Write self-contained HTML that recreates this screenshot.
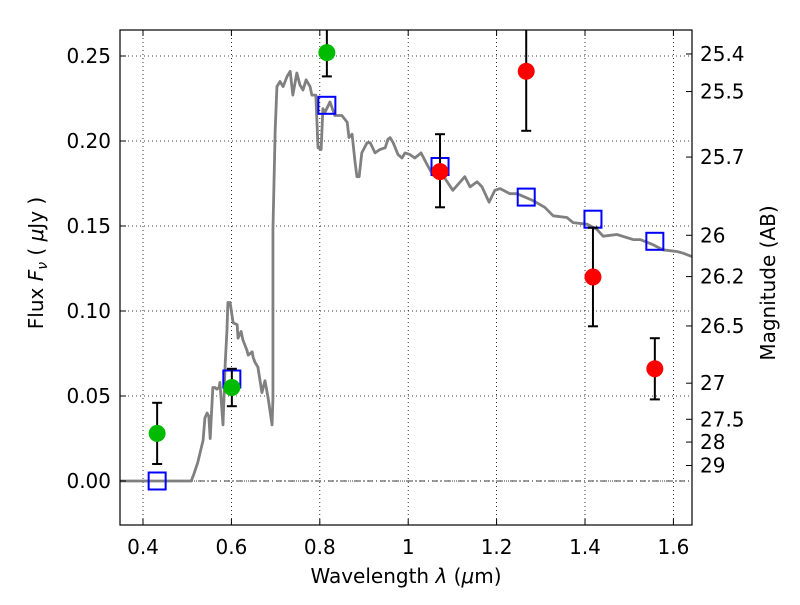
<!DOCTYPE html>
<html><head><meta charset="utf-8"><style>
body{margin:0;background:#fff;}
svg text{font-family:"DejaVu Sans","Liberation Sans",sans-serif;font-size:20px;fill:#000;}
</style></head><body>
<svg id="c" width="800" height="600" xmlns="http://www.w3.org/2000/svg"></svg>
<script>
const specLam=[0.348,0.509,0.515,0.524,0.536,0.540,0.545,0.549,0.552,0.558,0.563,0.567,0.572,0.574,0.581,0.586,0.590,0.592,0.597,0.604,0.613,0.615,0.622,0.626,0.635,0.638,0.647,0.649,0.653,0.660,0.669,0.676,0.683,0.692,0.694,0.694,0.699,0.703,0.710,0.717,0.726,0.733,0.739,0.748,0.755,0.762,0.769,0.778,0.782,0.791,0.796,0.803,0.807,0.812,0.823,0.834,0.850,0.862,0.866,0.873,0.880,0.884,0.889,0.895,0.907,0.914,0.925,0.936,0.948,0.954,0.959,0.966,0.977,0.986,0.993,1.004,1.015,1.029,1.043,1.056,1.083,1.101,1.128,1.140,1.156,1.167,1.183,1.196,1.208,1.230,1.246,1.282,1.309,1.328,1.359,1.373,1.405,1.427,1.441,1.472,1.509,1.525,1.554,1.576,1.608,1.622,1.642];
const specFlux=[0,0,0.004,0.011,0.024,0.037,0.040,0.038,0.025,0.055,0.055,0.054,0.055,0.058,0.033,0.069,0.089,0.105,0.105,0.093,0.092,0.084,0.088,0.083,0.077,0.074,0.076,0.073,0.070,0.067,0.052,0.059,0.049,0.033,0.049,0.148,0.206,0.232,0.235,0.232,0.238,0.241,0.227,0.240,0.233,0.230,0.236,0.232,0.227,0.227,0.196,0.195,0.219,0.217,0.223,0.215,0.215,0.211,0.202,0.204,0.187,0.179,0.179,0.193,0.199,0.199,0.193,0.195,0.196,0.201,0.202,0.199,0.192,0.190,0.193,0.192,0.190,0.193,0.186,0.180,0.178,0.171,0.179,0.173,0.176,0.173,0.164,0.171,0.172,0.169,0.169,0.165,0.161,0.156,0.155,0.152,0.151,0.148,0.144,0.145,0.142,0.142,0.139,0.136,0.135,0.134,0.132];
const greenLam=[0.432,0.601,0.816];
const greenFlux=[0.028,0.055,0.252];
const greenHi=[0.046,0.066,0.270];
const greenLo=[0.010,0.044,0.238];
const redLam=[1.072,1.267,1.418,1.558];
const redFlux=[0.182,0.241,0.120,0.066];
const redHi=[0.204,0.280,0.149,0.084];
const redLo=[0.161,0.206,0.091,0.048];
const boxLam=[0.432,0.601,0.816,1.072,1.267,1.418,1.558];
const boxFlux=[0.0,0.060,0.221,0.185,0.167,0.154,0.141];
const xTicks=[0.4,0.6,0.8,1.0,1.2,1.4,1.6];
const xTickLabels=["0.4","0.6","0.8","1","1.2","1.4","1.6"];
const yTicks=[0,0.05,0.10,0.15,0.20,0.25];
const yTickLabels=["0.00","0.05","0.10","0.15","0.20","0.25"];
const magTicks=[25.4,25.5,25.7,26,26.2,26.5,27,27.5,28,29];

const L=120,R=692,T=30,B=525;
const X=v=>143+(v-0.4)*442;
const Y=v=>481-v*1700;
const svg=document.getElementById('c');
const NS='http://www.w3.org/2000/svg';
function mk(tag,attrs,parent){const e=document.createElementNS(NS,tag);for(const k in attrs)e.setAttribute(k,attrs[k]);(parent||svg).appendChild(e);return e;}
const clip=mk('clipPath',{id:'pc'});mk('rect',{x:L,y:T,width:R-L,height:B-T},clip);
const grid=mk('g',{stroke:'#000','stroke-width':0.8,'stroke-dasharray':'1,3'});

xTicks.forEach(t=>mk('line',{x1:X(t),x2:X(t),y1:T,y2:B},grid));
yTicks.forEach(t=>mk('line',{x1:L,x2:R,y1:Y(t),y2:Y(t)},grid));
const zl=mk('line',{x1:L,x2:R,y1:Y(0),y2:Y(0),stroke:'#000','stroke-width':0.8,'stroke-dasharray':'6,3,1,3'});

const pg=mk('g',{'clip-path':'url(#pc)'});
const sp=mk('polyline',{points:specLam.map((l,i)=>X(l)+','+Y(specFlux[i])).join(' '),fill:'none',stroke:'#808080','stroke-width':2.8,'stroke-linejoin':'round'},pg);

boxLam.forEach((l,i)=>{const r=mk('rect',{x:X(l)-8.5,y:Y(boxFlux[i])-8.5,width:17,height:17,fill:'none',stroke:'#0000ff','stroke-width':2},pg);
});
function pts(lam,fl,hi,lo,col,name){lam.forEach((l,i)=>{const g=mk('g',{},pg);

mk('line',{x1:X(l),x2:X(l),y1:Y(hi[i]),y2:Y(lo[i]),stroke:'#000','stroke-width':2},g);
mk('line',{x1:X(l)-5,x2:X(l)+5,y1:Y(hi[i]),y2:Y(hi[i]),stroke:'#000','stroke-width':2},g);
mk('line',{x1:X(l)-5,x2:X(l)+5,y1:Y(lo[i]),y2:Y(lo[i]),stroke:'#000','stroke-width':2},g);
mk('circle',{cx:X(l),cy:Y(fl[i]),r:8.5,fill:col},g);});}
pts(greenLam,greenFlux,greenHi,greenLo,'#00bb00','detection-point');
pts(redLam,redFlux,redHi,redLo,'#ff0000','observed-point');
const fr=mk('rect',{x:L,y:T,width:R-L,height:B-T,fill:'none',stroke:'#000','stroke-width':1.2});

xTicks.forEach((t,i)=>{mk('line',{x1:X(t),x2:X(t),y1:B,y2:B-6,stroke:'#000'});mk('line',{x1:X(t),x2:X(t),y1:T,y2:T+6,stroke:'#000'});
const tx=mk('text',{x:X(t),y:554,'text-anchor':'middle'});tx.textContent=xTickLabels[i];
});
yTicks.forEach((t,i)=>{mk('line',{x1:L,x2:L+6,y1:Y(t),y2:Y(t),stroke:'#000'});
const tx=mk('text',{x:111,y:Y(t)+7,'text-anchor':'end'});tx.textContent=yTickLabels[i];
});
magTicks.forEach(m=>{const y=Y(Math.pow(10,(23.9-m)/2.5));mk('line',{x1:R,x2:R-6,y1:y,y2:y,stroke:'#000'});
const tx=mk('text',{x:700,y:y+7});tx.textContent=String(m);
});
</script>
<svg width="800" height="600" style="position:absolute;left:0;top:0" xmlns="http://www.w3.org/2000/svg">
<text x="406" y="583" text-anchor="middle" style="font-family:'DejaVu Sans',sans-serif;font-size:20px">Wavelength  <tspan font-style="italic">λ</tspan> (<tspan font-style="italic">μ</tspan>m)</text>
<text transform="translate(43,263) rotate(-90)" text-anchor="middle" style="font-family:'DejaVu Sans',sans-serif;font-size:20px">Flux  <tspan font-style="italic">F</tspan><tspan font-style="italic" font-size="14" dy="4">ν</tspan><tspan dy="-4">  ( </tspan><tspan font-style="italic">μ</tspan>Jy )</text>
<text transform="translate(775,283) rotate(-90)" text-anchor="middle" style="font-family:'DejaVu Sans',sans-serif;font-size:20px">Magnitude (AB)</text>
</svg>
</body></html>
